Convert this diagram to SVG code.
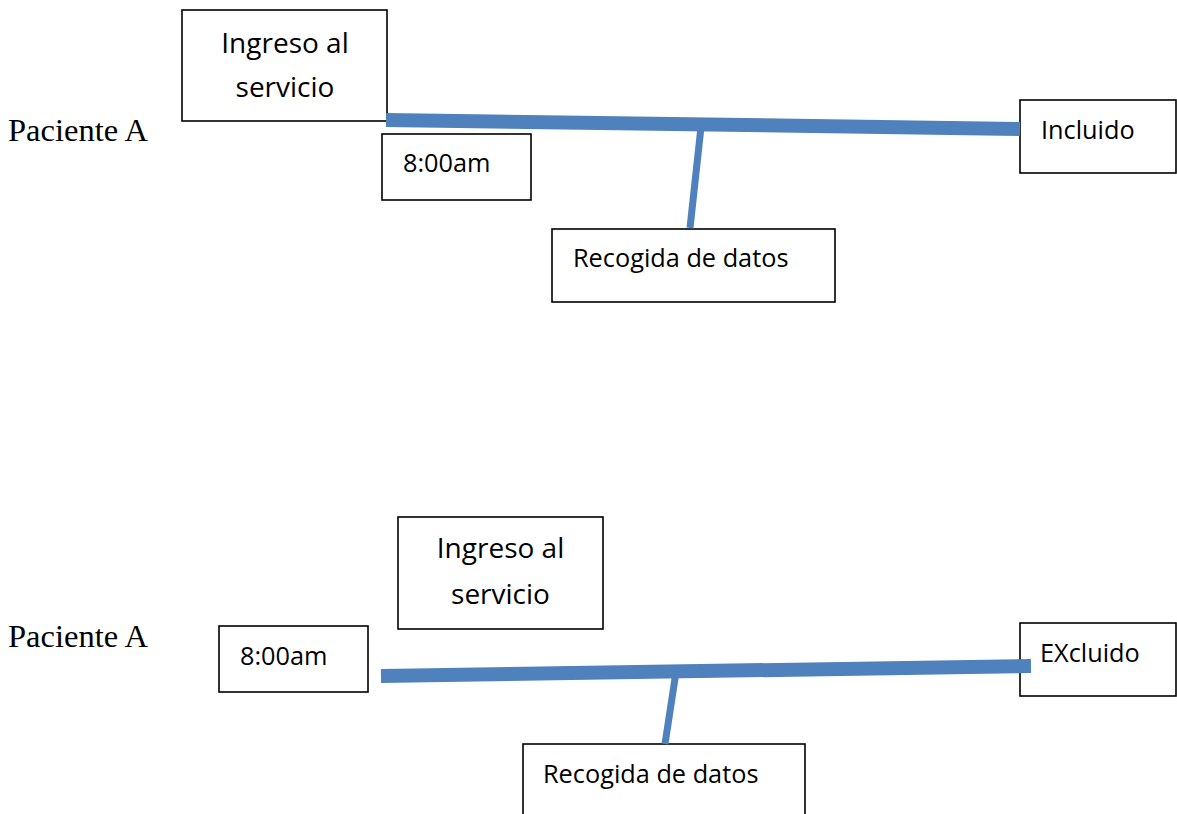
<svg xmlns="http://www.w3.org/2000/svg" width="1177" height="814" viewBox="0 0 1177 814">
<style>
.box{fill:#fff;stroke:#000;stroke-width:1.6}
.t{font-family:"Open Sans","Liberation Sans",sans-serif;font-size:25.3px;fill:#000}
.big{font-size:28px}
.c{text-anchor:middle}
.lbl{font-family:"Liberation Serif","Times New Roman",serif;font-size:32.5px;fill:#000}
.main{stroke:#4F81BD;stroke-width:14;fill:none}
.br{stroke:#4F81BD;stroke-width:7;fill:none}
</style>
<rect width="1177" height="814" fill="#fff"/>
<text class="lbl" x="8" y="141">Paciente A</text>
<text class="lbl" x="8" y="647">Paciente A</text>
<g id="top-ingreso"><rect class="box" x="182" y="10" width="205" height="111"/><text class="t big c" x="285" y="53">Ingreso al</text><text class="t big c" x="285" y="97">servicio</text></g>
<g id="top-hora"><rect class="box" x="382" y="134" width="149" height="66"/><text class="t" x="403" y="172">8:00am</text></g>
<g id="top-recogida"><rect class="box" x="552" y="229" width="283" height="73"/><text class="t" x="573" y="267">Recogida de datos</text></g>
<g id="top-incluido"><rect class="box" x="1020" y="100" width="156" height="73"/><text class="t" x="1041" y="139">Incluido</text></g>
<g id="bot-ingreso"><rect class="box" x="398" y="517" width="205" height="112"/><text class="t big c" x="500.5" y="558">Ingreso al</text><text class="t big c" x="500.5" y="604">servicio</text></g>
<g id="bot-hora"><rect class="box" x="219" y="626" width="149" height="66"/><text class="t" x="240" y="665">8:00am</text></g>
<g id="bot-recogida"><rect class="box" x="523" y="744" width="282" height="80"/><text class="t" x="543" y="783">Recogida de datos</text></g>
<g id="bot-excluido"><rect class="box" x="1020" y="623" width="156" height="73"/><text class="t" x="1040" y="662">EXcluido</text></g>
<g id="connectors">
<line class="main" x1="386" y1="120" x2="1020" y2="129"/>
<line class="br" x1="701" y1="127" x2="690" y2="228"/>
<line class="main" x1="381" y1="676" x2="1031" y2="666"/>
<line class="br" x1="676" y1="672" x2="665" y2="744"/>
</g>
</svg>
